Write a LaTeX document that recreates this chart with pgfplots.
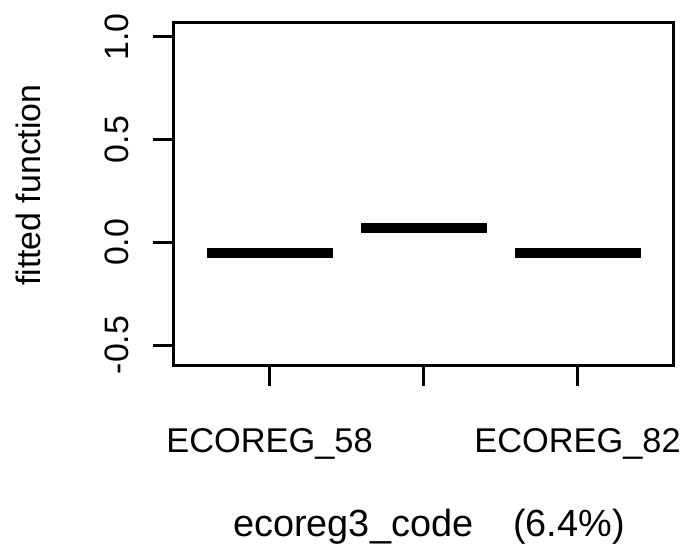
\documentclass[border=0pt]{standalone}
\usepackage{fontspec}
\setmainfont{Liberation Sans}
\usepackage{pgfplots}
\pgfplotsset{compat=1.18}
\begin{document}
\begin{tikzpicture}
\begin{axis}[
  scale only axis,
  width=499bp, height=342bp,
  xmin=0.38, xmax=3.62,
  ymin=-0.597, ymax=1.067,
  axis line style={line width=3bp, line cap=rect},
  every tick/.style={black, line width=3bp},
  tick align=outside,
  major tick length=21bp,
  xtick pos=bottom, ytick pos=left,
  xtick={1,2,3},
  xticklabels={ECOREG\_58,,ECOREG\_82},
  ytick={-0.5,0,0.5,1},
  yticklabels={-0.5,0.0,0.5,1.0},
  xticklabel shift=42bp,
  yticklabel shift=24bp,
  xticklabel style={font=\fontsize{34.5}{40}\selectfont, anchor=north, inner sep=0pt},
  yticklabel style={font=\fontsize{34}{40}\selectfont, rotate=90, anchor=south, inner sep=0pt},
  xlabel={ecoreg3\_code\hspace{40bp}(6.4\%)},
  xlabel style={at={(rel axis cs:0.511,-0.4737)}, anchor=center, inner sep=0pt,
    font=\fontsize{38}{45}\selectfont},
  ylabel={fitted function},
  ylabel style={at={(rel axis cs:-0.2916,0.526)}, anchor=center, rotate=0, inner sep=0pt,
    font=\fontsize{34}{40}\selectfont},
]
% one flat segment per factor level
\addplot[black, line width=10bp] coordinates {(0.595,-0.053) (1.41,-0.053)};
\addplot[black, line width=10bp] coordinates {(1.595,0.068) (2.41,0.068)};
\addplot[black, line width=10bp] coordinates {(2.595,-0.053) (3.41,-0.053)};
\coordinate (bl) at (rel axis cs:0,0);
\end{axis}
\pgfresetboundingbox
\path (bl) ++(-174bp,-190bp) rectangle ++(693bp,555bp);
\end{tikzpicture}
\end{document}
